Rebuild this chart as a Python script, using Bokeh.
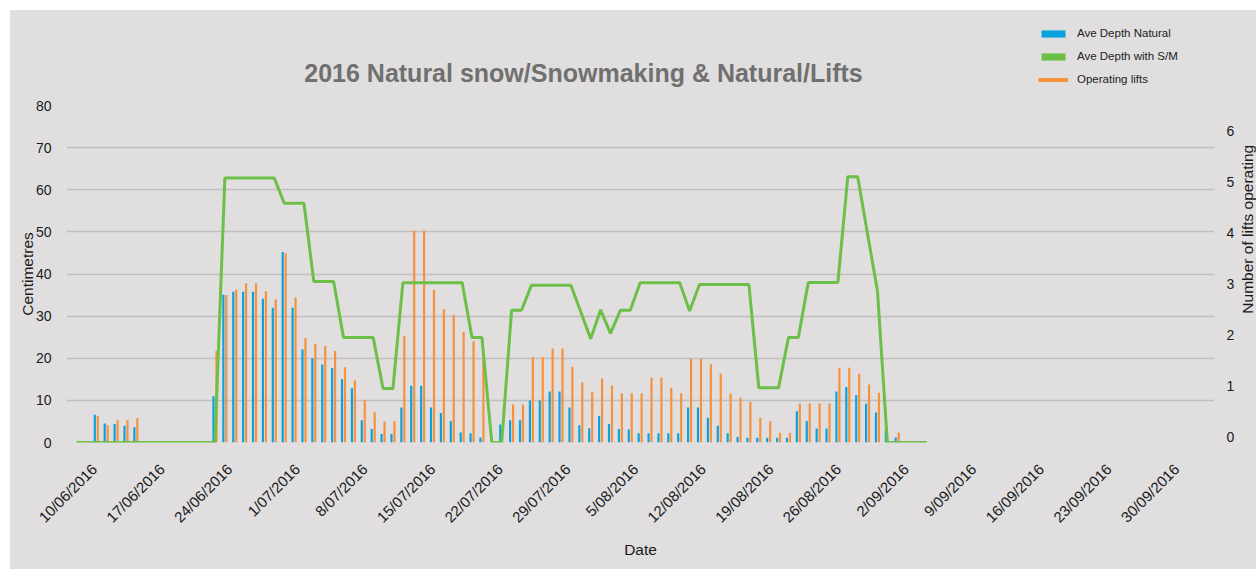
import math
from bokeh.plotting import figure
from bokeh.layouts import column, row, Spacer
from bokeh.models import (Range1d, LinearAxis, FixedTicker, Label, Legend, LegendItem)
from bokeh.embed import file_html
from bokeh.resources import INLINE

NaN = float("nan")

# One entry per day; day 0 is the first point of the "with S/M" line.
depth_natural = [NaN, NaN, 6.6, 4.5, 4.4, 4.0, 3.6,
                 NaN, NaN, NaN, NaN, NaN, NaN, NaN,
                 11.0, 35.1, 35.8, 35.8, 35.8, 34.1, 32.0, 45.2, 32.0, 22.1, 20.0, 18.5, 17.7, 15.1,
                 12.9, 5.3, 3.2, 2.0, 2.0, 8.3, 13.5, 13.5, 8.3, 7.0, 5.1, 2.4, 2.2, 1.2,
                 NaN, 4.3, 5.3, 5.3, 10.0, 10.0, 12.1, 12.1, 8.3, 4.1, 3.4,
                 6.3, 4.4, 3.2, 3.1, 2.2, 2.2, 2.2, 2.2, 2.2, 8.3, 8.3, 5.9, 4.0, 2.2, 1.3,
                 1.1, 1.1, 1.1, 1.1, 1.1, 7.4, 5.1, 3.3, 3.3, 12.1, 13.2, 11.2, 9.2, 7.1, 3.2, 1.2,
                 NaN, NaN, NaN]

depth_with_sm = ([0.0] * 15 + [62.8] * 6 + [56.8] * 3 + [38.2] * 3 + [24.9] * 4 + [12.8] * 2
                 + [37.9] * 7 + [24.9] * 2 + [0.0] * 2 + [31.4] * 2 + [37.3] * 5
                 + [31.0, 24.6, 31.5, 25.9] + [31.4] * 2 + [37.9] * 5 + [31.2] + [37.5] * 6
                 + [13.0] * 3 + [24.9] * 2 + [38.0] * 4 + [63.1] * 2 + [49.5, 36.0] + [0.0] * 5)

operating_lifts = [NaN, NaN, 0.41, 0.23, 0.33, 0.33, 0.37,
                   NaN, NaN, NaN, NaN, NaN, NaN, NaN,
                   1.69, 2.79, 2.89, 3.02, 3.02, 2.86, 2.70, 3.61, 2.74, 1.94, 1.83, 1.79, 1.69, 1.37,
                   1.11, 0.72, 0.49, 0.31, 0.31, 1.99, 4.05, 4.05, 2.89, 2.51, 2.40, 2.06, 1.88, 1.60,
                   NaN, NaN,
                   0.64, 0.64, 1.57, 1.57, 1.74, 1.74, 1.38, 1.07, 0.89, 1.15, 1.01, 0.86, 0.86, 0.86,
                   1.17, 1.17, 0.96, 0.86, 1.53, 1.53, 1.43, 1.24, 0.85, 0.77, 0.69, 0.38, 0.31, 0.08,
                   0.08, 0.66, 0.66, 0.66, 0.66, 1.36, 1.36, 1.24, 1.03, 0.87,
                   NaN, 0.09, NaN, NaN, NaN]

tick_labels = ["10/06/2016", "17/06/2016", "24/06/2016", "1/07/2016", "8/07/2016",
               "15/07/2016", "22/07/2016", "29/07/2016", "5/08/2016", "12/08/2016",
               "19/08/2016", "26/08/2016", "2/09/2016", "9/09/2016", "16/09/2016",
               "23/09/2016", "30/09/2016"]

series_names = ["Ave Depth Natural", "Ave Depth with S/M", "Operating lifts"]

days = list(range(len(depth_with_sm)))

# styling / layout
BG = "#e0dedf"
BLUE = "#0aa2de"
GREEN = "#6cbf47"
ORANGE = "#f7913a"
GRID = "#bfbfbf"
TXT = "#1a1a1a"
FONT = "Liberation Sans"
LIFTS_START, LIFTS_END = -0.108, 6.51
FIRST_TICK, WEEK = 1.8, 6.84
PX_PER_DAY = 9.957
W, HEAD_H, MAIN_H, SIDE_W = 1246, 85, 474, 19
MAIN_W = W - SIDE_W
BL, BR, BT, BB = 56, 15, 10, 127
FRAME_W = MAIN_W - BL - BR
X0 = -1.014


def blank(width, height):
    f = figure(width=width, height=height, output_backend="svg", toolbar_location=None,
               x_range=Range1d(0, width), y_range=Range1d(0, height),
               x_axis_location=None, y_axis_location=None, min_border=0)
    f.background_fill_color = BG
    f.border_fill_color = BG
    f.outline_line_color = None
    f.grid.grid_line_color = None
    return f


# ---------- header: title + legend ----------
head = blank(W, HEAD_H)
head.add_layout(Label(x=573, y=23, text="2016 Natural snow/Snowmaking & Natural/Lifts",
                      text_align="center", text_baseline="alphabetic",
                      text_font=FONT, text_font_style="bold",
                      text_font_size="25px", text_color="#707070"))
k_blue = head.vbar(x=[NaN], top=[NaN], width=1, fill_color=BLUE, line_color=None)
k_green = head.vbar(x=[NaN], top=[NaN], width=1, fill_color=GREEN, line_color=None)
k_orange = head.line(x=[NaN], y=[NaN], line_color=ORANGE, line_width=4)
legend = Legend(items=[LegendItem(label=n, renderers=[r])
                       for n, r in zip(series_names, [k_blue, k_green, k_orange])],
                location=(1028, 9), glyph_width=30, glyph_height=9, label_standoff=9,
                label_height=14, spacing=9, padding=0, margin=0,
                border_line_color=None, background_fill_alpha=0,
                label_text_font=FONT, label_text_font_size="11.5px",
                label_text_color="#222222")
head.add_layout(legend)

# ---------- main chart ----------
p = figure(width=MAIN_W, height=MAIN_H, output_backend="svg", toolbar_location=None,
           x_range=Range1d(X0, X0 + FRAME_W / PX_PER_DAY), y_range=Range1d(0, 80),
           min_border_left=BL, min_border_right=BR, min_border_top=BT, min_border_bottom=BB)
p.extra_y_ranges = {"lifts": Range1d(LIFTS_START, LIFTS_END)}

p.background_fill_color = BG
p.border_fill_color = BG
p.outline_line_color = None
p.xgrid.grid_line_color = None
p.ygrid.grid_line_color = GRID
p.ygrid.grid_line_width = 1.5

p.vbar(x=[d - 0.15 for d in days], top=depth_natural, bottom=0, width=0.22,
       fill_color=BLUE, line_color=None)
p.vbar(x=[d + 0.15 for d in days], top=operating_lifts, bottom=LIFTS_START, width=0.22,
       fill_color=ORANGE, line_color=None, y_range_name="lifts")
p.line(x=days, y=depth_with_sm, line_color=GREEN, line_width=3)

tick_pos = [round(FIRST_TICK + WEEK * k, 3) for k in range(len(tick_labels))]
xa = p.xaxis[0]
xa.ticker = FixedTicker(ticks=tick_pos)
xa.major_label_overrides = {t: lab for t, lab in zip(tick_pos, tick_labels)}
xa.major_label_orientation = math.pi / 4
xa.major_label_standoff = 18
xa.axis_label = "Date"
xa.axis_label_standoff = 6

ya = p.yaxis[0]
ya.ticker = FixedTicker(ticks=list(range(0, 81, 10)))
ya.axis_label = "Centimetres"
ya.axis_label_standoff = -3
ya.major_label_standoff = 9
p.ygrid.ticker = ya.ticker

ra = LinearAxis(y_range_name="lifts", ticker=FixedTicker(ticks=list(range(0, 7))))
ra.major_label_standoff = 6
p.add_layout(ra, "right")

for ax in (xa, ya, ra):
    ax.axis_line_color = None
    ax.major_tick_line_color = None
    ax.minor_tick_line_color = None
    ax.major_label_text_font = FONT
    ax.major_label_text_font_size = "14px"
    ax.major_label_text_color = TXT
    ax.axis_label_text_font = FONT
    ax.axis_label_text_font_size = "15.5px"
    ax.axis_label_text_font_style = "normal"
    ax.axis_label_text_color = TXT
xa.major_label_text_font_size = "15px"

# ---------- right strip: secondary axis title ----------
side = blank(SIDE_W, MAIN_H)
side.add_layout(Label(x=SIDE_W / 2, y=300, text="Number of lifts operating",
                      angle=math.pi / 2, text_align="center", text_baseline="middle",
                      text_font=FONT, text_font_size="15.5px", text_color=TXT))

body = row(p, side, spacing=0)
body.styles = {"background-color": BG}
chart = column(head, body, spacing=0)
chart.styles = {"background-color": BG}
page = column(Spacer(height=10), row(Spacer(width=10), chart, spacing=0), spacing=0)

open("out.html", "w").write(file_html(page, INLINE))
